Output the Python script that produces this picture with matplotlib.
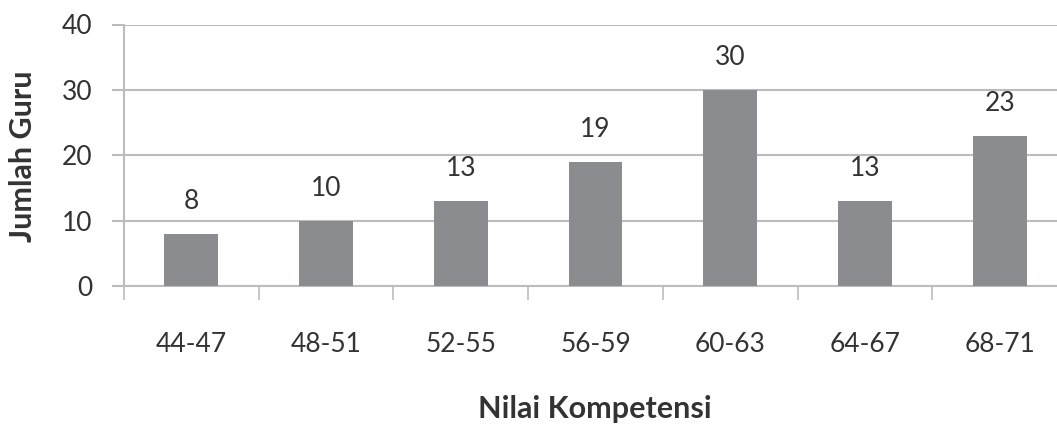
import matplotlib
matplotlib.use("Agg")
import matplotlib.pyplot as plt
import numpy as np

categories = ["44-47", "48-51", "52-55", "56-59", "60-63", "64-67", "68-71"]
values = [8, 10, 13, 19, 30, 13, 23]
y_ticks = [0, 10, 20, 30, 40]

plt.rcParams["font.family"] = ["Lato", "DejaVu Sans"]

bar_color = "#8b8c90"
grid_color = "#bcbcbc"
text_color = "#333333"

W, H = 1057, 424
fig = plt.figure(figsize=(W / 100, H / 100), dpi=100)
ax = fig.add_axes([124 / W, 138 / H, 943 / W, 261.5 / H])

x = np.arange(len(categories))
ax.bar(x, values, width=0.4, color=bar_color, zorder=3)

for xi, v in zip(x, values):
    ax.annotate(str(v), (xi, v), xytext=(0, 18), textcoords="offset points",
                ha="center", va="baseline", fontsize=19, color=text_color)

ax.set_xlim(-0.5, len(categories) - 0.5)
ax.set_ylim(0, 40)
ax.set_yticks(y_ticks)
ax.yaxis.grid(True, color=grid_color, linewidth=1.5, zorder=0)
ax.set_axisbelow(True)

# category boundaries carry tick marks, centers carry labels
ax.set_xticks(np.arange(len(categories) + 1) - 0.5)
ax.set_xticklabels([])
ax.set_xticks(x, minor=True)
ax.set_xticklabels(categories, minor=True)
ax.tick_params(axis="x", which="major", length=10, width=1.2, color=grid_color, direction="out")
ax.tick_params(axis="x", which="minor", length=0, pad=33, labelsize=19, labelcolor=text_color)
ax.tick_params(axis="y", length=9, width=1.5, color=grid_color, pad=14,
               labelsize=19, labelcolor=text_color)

for side in ["top", "right"]:
    ax.spines[side].set_visible(False)
for side in ["left", "bottom"]:
    ax.spines[side].set_color(grid_color)
    ax.spines[side].set_linewidth(1.5)

fig.text(23 / W, 1 - 156 / H, "Jumlah Guru", rotation=90, ha="center", va="center",
         fontsize=22, fontweight="bold", color=text_color)
fig.text(595 / W, 6 / H, "Nilai Kompetensi", ha="center", va="baseline",
         fontsize=22, fontweight="bold", color=text_color)

fig.savefig("out.png", dpi=100)
